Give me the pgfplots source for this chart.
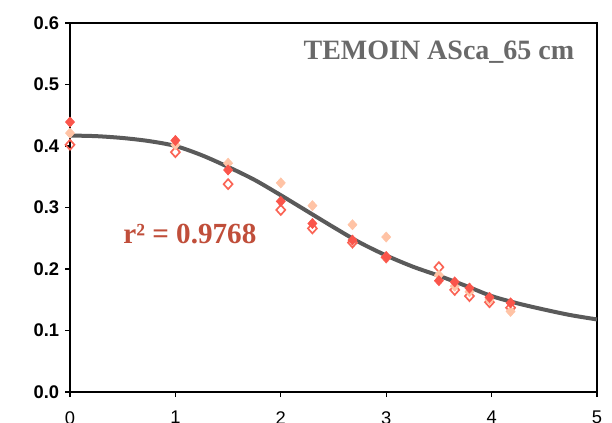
\documentclass[border=0pt]{standalone}
\usepackage{pgfplots}
\pgfplotsset{compat=1.18}
\usepackage{fontspec}
\setmainfont{Liberation Sans}
\newfontfamily\timesfont{Liberation Serif}

\definecolor{curvegray}{RGB}{90,90,90}
\definecolor{ptred}{RGB}{250,85,75}
\definecolor{ptopen}{RGB}{250,100,85}
\definecolor{ptpeach}{RGB}{255,195,165}
\definecolor{titlegray}{RGB}{105,105,105}
\definecolor{rred}{RGB}{192,78,58}

% fitted curve
\pgfplotstableread{
x y
0.00 0.417
0.25 0.416
0.50 0.413
0.75 0.408
1.00 0.400
1.25 0.385
1.50 0.366
1.75 0.345
2.00 0.320
2.25 0.294
2.50 0.268
2.75 0.243
3.00 0.222
3.25 0.204
3.50 0.189
3.75 0.173
4.00 0.156
4.25 0.144
4.50 0.134
4.75 0.125
5.00 0.118
}\fitcurve

\pgfplotstableread{
x y
0.00 0.439
1.00 0.409
1.50 0.361
2.00 0.310
2.30 0.274
2.68 0.247
3.00 0.220
3.50 0.181
3.65 0.179
3.79 0.169
3.98 0.154
4.18 0.145
}\redpts

\pgfplotstableread{
x y
0.00 0.402
1.00 0.390
1.50 0.338
2.00 0.296
2.30 0.266
2.68 0.243
3.00 0.219
3.50 0.203
3.65 0.166
3.79 0.156
3.98 0.146
4.18 0.137
}\openpts

\pgfplotstableread{
x y
0.00 0.421
1.00 0.402
1.50 0.372
2.00 0.340
2.30 0.303
2.68 0.272
3.00 0.252
3.50 0.190
3.65 0.172
3.79 0.163
3.98 0.150
4.18 0.131
}\peachpts

\begin{document}
\begin{tikzpicture}
\begin{axis}[
  name=ax,
  scale only axis,
  width=316.2pt, height=221.4pt,
  xmin=0, xmax=5, ymin=0, ymax=0.6,
  xtick={0,1,2,3,4,5},
  ytick={0,0.1,0.2,0.3,0.4,0.5,0.6},
  tick align=outside, tick pos=left,
  major tick length=3pt,
  axis line style={black, line width=0.8pt},
  every tick/.style={black, line width=0.8pt},
  /pgf/number format/assume math mode=true,
  xticklabel style={font=\fontsize{11}{13}\selectfont, yshift=-5pt},
  yticklabel style={font=\fontsize{11}{13}\selectfont\bfseries,
    /pgf/number format/.cd, fixed, fixed zerofill, precision=1},
  clip=false,
]
\addplot[no marks, color=curvegray, line width=2.4pt, smooth] table {\fitcurve};
\addplot[only marks, mark=diamond, mark size=3pt,
  mark options={draw=ptopen, fill=white, line width=1pt, xscale=1.2}] table {\openpts};
\addplot[only marks, mark=diamond*, mark size=3pt,
  mark options={draw=ptpeach, fill=ptpeach, xscale=1.2}] table {\peachpts};
\addplot[only marks, mark=diamond*, mark size=3pt,
  mark options={draw=ptred, fill=ptred, xscale=1.2}] table {\redpts};

\node[anchor=east, text=titlegray,
  font=\timesfont\bfseries\fontsize{16.8}{18}\selectfont]
  at (axis cs:4.84,0.553) {TEMOIN ASca\_65 cm};
\node[anchor=west, text=rred,
  font=\timesfont\bfseries\fontsize{17.5}{19}\selectfont]
  at (axis cs:0.45,0.257) {r² = 0.9768};
\end{axis}
\pgfresetboundingbox
\path[use as bounding box] ([xshift=-42pt,yshift=-18pt]ax.south west)
  rectangle ([xshift=9pt,yshift=13.8pt]ax.north east);
\end{tikzpicture}
\end{document}
